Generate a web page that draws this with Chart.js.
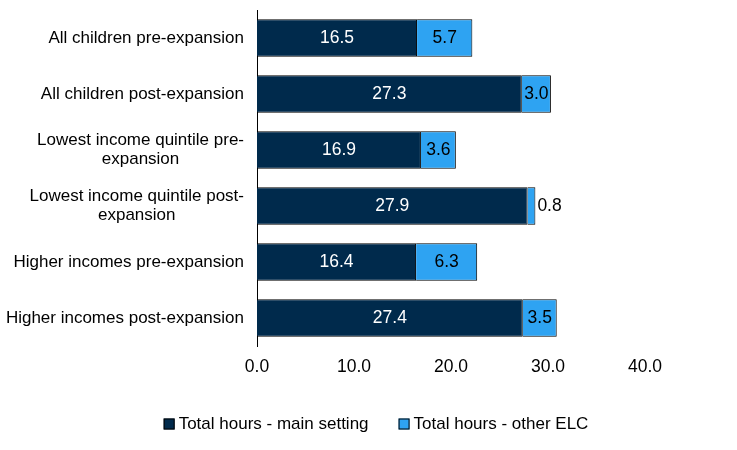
<!DOCTYPE html>
<html>
<head>
<meta charset="utf-8">
<script src="https://cdn.jsdelivr.net/npm/chart.js@4"></script>
<style>
  html, body { margin: 0; padding: 0; background: #fff; }
  #wrap { width: 737px; height: 450px; }
</style>
</head>
<body>
<div id="wrap"><canvas id="chart"></canvas></div>
<script>
// categories (multi-line labels as arrays)
var categories = [
    ['All children pre-expansion'],
    ['All children post-expansion'],
    ['Lowest income quintile pre-', 'expansion'],
    ['Lowest income quintile post-', 'expansion'],
    ['Higher incomes pre-expansion'],
    ['Higher incomes post-expansion']
];
var mainSetting = [16.5, 27.3, 16.9, 27.9, 16.4, 27.4];
var otherElc = [5.7, 3.0, 3.6, 0.8, 6.3, 3.5];
var seriesNames = ['Total hours - main setting', 'Total hours - other ELC'];

var NAVY = '#002a4c';
var BLUE = '#2ea3f2';
var FONT = '"Liberation Sans", Arial, sans-serif';

// draw category labels: lines centred on each other, block right-aligned
var catLabels = {
    id: 'catLabels',
    afterDraw: function(chart) {
        var ctx = chart.ctx, y = chart.scales.y;
        var right = chart.chartArea.left - 13;
        ctx.save();
        ctx.font = '17px ' + FONT;
        ctx.fillStyle = '#000';
        ctx.textAlign = 'center';
        ctx.textBaseline = 'middle';
        var lh = 18.5;
        categories.forEach(function(lines, i) {
            var w = Math.max.apply(null, lines.map(function(l) { return ctx.measureText(l).width; }));
            var cx = right - w / 2;
            var cy = y.getPixelForValue(i) - (lines.length - 1) * lh / 2;
            lines.forEach(function(l, k) { ctx.fillText(l, cx, cy + k * lh); });
        });
        ctx.restore();
    }
};

// value labels inside bars (outside if the segment is too narrow)
var valueLabels = {
    id: 'valueLabels',
    afterDatasetsDraw: function(chart) {
        var ctx = chart.ctx;
        ctx.save();
        ctx.font = '17.5px ' + FONT;
        ctx.textBaseline = 'middle';
        chart.data.datasets.forEach(function(ds, di) {
            chart.getDatasetMeta(di).data.forEach(function(bar, i) {
                var txt = ds.data[i].toFixed(1);
                var w = ctx.measureText(txt).width;
                var segW = Math.abs(bar.x - bar.base);
                if (segW < w) {
                    ctx.fillStyle = '#000';
                    ctx.textAlign = 'left';
                    ctx.fillText(txt, bar.x + 2, bar.y);
                } else {
                    ctx.fillStyle = di === 0 ? '#fff' : '#000';
                    ctx.textAlign = 'center';
                    ctx.fillText(txt, (bar.x + bar.base) / 2, bar.y);
                }
            });
        });
        ctx.restore();
    }
};

// legend at the bottom, centred on the page
var bottomLegend = {
    id: 'bottomLegend',
    afterDraw: function(chart) {
        var ctx = chart.ctx;
        ctx.save();
        ctx.font = '17px ' + FONT;
        ctx.textBaseline = 'middle';
        ctx.textAlign = 'left';
        var box = 11, gap = 4, spacing = 30, yMid = 424;
        var widths = seriesNames.map(function(n) { return ctx.measureText(n).width; });
        var total = widths.reduce(function(a, w) { return a + box + gap + w; }, 0) + spacing * (seriesNames.length - 1);
        var x = 376 - total / 2;
        chart.data.datasets.forEach(function(ds, i) {
            ctx.fillStyle = ds.backgroundColor;
            ctx.fillRect(x, yMid - box / 2, box, box);
            ctx.strokeStyle = '#000';
            ctx.lineWidth = 1;
            ctx.strokeRect(x + 0.5, yMid - box / 2 + 0.5, box - 1, box - 1);
            ctx.fillStyle = '#000';
            ctx.fillText(seriesNames[i], x + box + gap, yMid);
            x += box + gap + widths[i] + spacing;
        });
        ctx.restore();
    }
};

new Chart('chart', {
    type: 'bar',
    data: {
        labels: categories,
        datasets: [
            { label: seriesNames[0], data: mainSetting, backgroundColor: NAVY, borderColor: '#000', borderWidth: 1 },
            { label: seriesNames[1], data: otherElc, backgroundColor: BLUE, borderColor: '#000', borderWidth: 1 }
        ]
    },
    options: {
        indexAxis: 'y',
        responsive: true,
        maintainAspectRatio: false,
        animation: false,
        barPercentage: 1,
        categoryPercentage: 0.67,
        layout: { padding: { top: 10, right: 92, bottom: 46, left: 16 } },
        scales: {
            x: {
                stacked: true,
                min: 0, max: 40,
                grid: { display: false, drawTicks: false },
                border: { display: false },
                ticks: {
                    stepSize: 10,
                    padding: 11,
                    color: '#000',
                    font: { family: FONT, size: 17.5 },
                    callback: function(v) { return v.toFixed(1); }
                },
                afterFit: function(s) { s.height = 58; }
            },
            y: {
                stacked: true,
                grid: { display: false, drawTicks: false },
                border: { display: true, color: '#000', width: 1 },
                ticks: { display: false },
                afterFit: function(s) { s.width = 241; }
            }
        },
        plugins: {
            legend: { display: false },
            tooltip: { enabled: false }
        }
    },
    plugins: [catLabels, valueLabels, bottomLegend]
});
</script>
</body>
</html>
